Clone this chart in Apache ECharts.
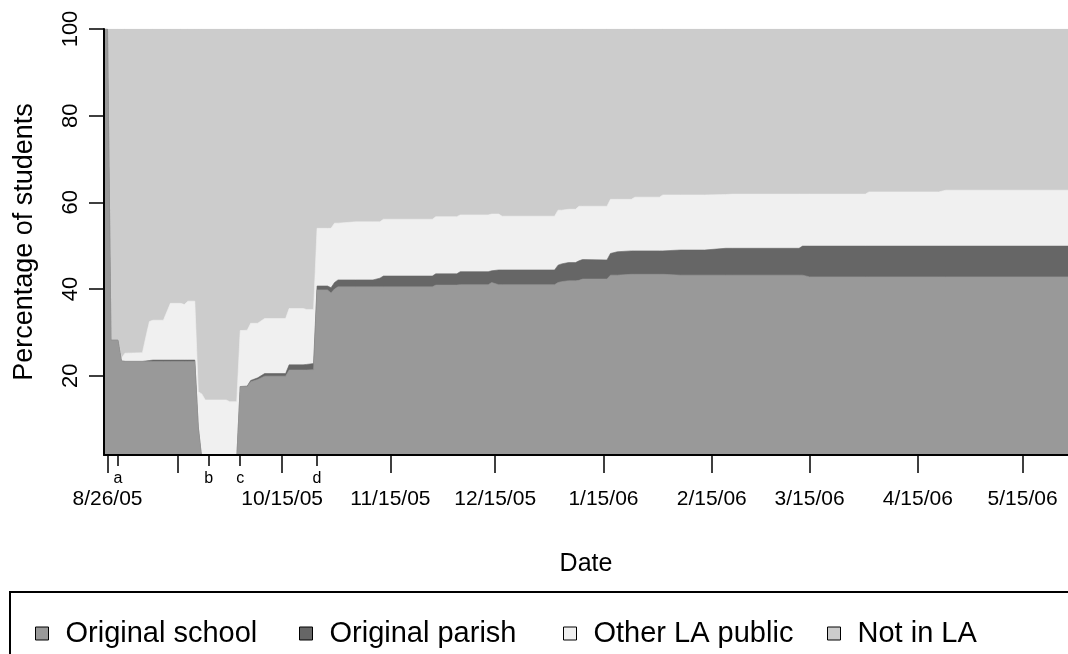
<!DOCTYPE html>
<html><head><meta charset="utf-8">
<script src="https://cdn.jsdelivr.net/npm/echarts@6/dist/echarts.min.js"></script>
<style>html,body{margin:0;padding:0;background:#fff}#c{width:1068px;height:654px}</style>
</head><body><div id="c"></div>
<script>
// ---- data ----
const dates = ['2005-08-25','2005-08-26','2005-08-27','2005-08-29','2005-08-30','2005-08-31','2005-09-05','2005-09-06','2005-09-07','2005-09-08',
 '2005-09-11','2005-09-13','2005-09-16','2005-09-17','2005-09-18','2005-09-20','2005-09-21','2005-09-22','2005-09-23','2005-09-29',
 '2005-09-30','2005-10-02','2005-10-03','2005-10-05','2005-10-06','2005-10-08','2005-10-10','2005-10-16','2005-10-17','2005-10-21',
 '2005-10-22','2005-10-24','2005-10-25','2005-10-28','2005-10-29','2005-10-30','2005-10-31','2005-11-05','2005-11-10','2005-11-12',
 '2005-11-13','2005-11-27','2005-11-28','2005-12-04','2005-12-05','2005-12-13','2005-12-14','2005-12-16','2005-12-17','2006-01-01',
 '2006-01-02','2006-01-03','2006-01-05','2006-01-07','2006-01-08','2006-01-09','2006-01-16','2006-01-17','2006-01-19','2006-01-23',
 '2006-01-24','2006-01-31','2006-02-01','2006-02-06','2006-02-13','2006-02-19','2006-02-21','2006-03-12','2006-03-13','2006-03-15',
 '2006-03-31','2006-04-01','2006-04-21','2006-04-23','2006-05-28'];
const originalSchool = [100,100,28.2,28.2,23.4,23.3,23.3,23.3,23.3,23.3,
 23.3,23.3,23.3,23.3,23.3,23.3,8.0,0.8,0.8,0.8,
 0.8,0.8,17.5,17.5,18.6,19.1,19.9,19.9,21.3,21.3,
 21.3,21.4,39.8,39.8,39.1,40.0,40.5,40.5,40.5,40.5,
 40.5,40.5,40.9,40.9,41.0,41.0,41.5,41.0,41.0,41.0,
 41.5,41.7,41.9,41.9,42.0,42.3,42.3,43.2,43.2,43.4,
 43.4,43.4,43.4,43.2,43.2,43.2,43.2,43.2,43.2,42.8,
 42.8,42.8,42.8,42.8,42.8];
const originalParish = [0,0,0,0,0,0,0,0.1,0.2,0.3,
 0.3,0.3,0.3,0.3,0.3,0.3,0.2,0,0,0,
 0,0,0,0.1,0.3,0.4,0.6,0.6,1.2,1.2,
 1.3,1.4,0.9,0.9,1.2,1.5,1.6,1.6,1.6,2.0,
 2.5,2.5,2.6,2.6,3.0,3.0,2.7,3.4,3.4,3.4,
 4.0,4.1,4.2,4.2,4.5,4.5,4.4,5.0,5.4,5.4,
 5.4,5.4,5.4,5.8,5.8,6.2,6.2,6.2,6.7,7.1,
 7.1,7.1,7.1,7.1,7.1];
const otherLAPublic = [0,0,0,0,0.6,1.9,2.0,5.6,9.0,9.2,
 9.2,13.1,13.1,12.8,13.6,13.6,8.1,15.0,13.6,13.6,
 13.2,13.2,12.9,12.9,13.2,12.6,12.7,12.7,13.0,13.0,
 12.7,12.5,13.3,13.3,13.7,13.7,13.1,13.4,13.4,13.0,
 13.1,13.1,13.2,13.2,13.1,13.1,13.1,12.9,12.4,12.4,
 12.7,12.4,12.3,12.3,12.6,12.3,12.4,12.5,12.1,11.9,
 12.4,12.4,12.9,12.7,12.7,12.4,12.5,12.5,12.0,12.0,
 12.0,12.5,12.5,12.9,12.9];
const notInLA = [0,0,71.8,71.8,76.0,74.8,74.7,71.0,67.5,67.2,
 67.2,63.3,63.3,63.6,62.8,62.8,83.7,84.2,85.6,85.6,
 86.0,86.0,69.6,69.5,67.9,67.9,66.8,66.8,64.5,64.5,
 64.7,64.7,46.0,46.0,46.0,44.8,44.8,44.5,44.5,44.5,
 43.9,43.9,43.3,43.3,42.9,42.9,42.7,42.7,43.2,43.2,
 41.8,41.8,41.6,41.6,40.9,40.9,40.9,39.3,39.3,39.3,
 38.8,38.8,38.3,38.3,38.3,38.2,38.1,38.1,38.1,38.1,
 38.1,37.6,37.6,37.2,37.2];
const seriesNames = ['Original school','Original parish','Other LA public','Not in LA'];
const seriesColors = ['#999999','#666666','#f0f0f0','#cccccc'];
const tickDates = ['2005-08-26','2005-09-15','2005-10-15','2005-11-15','2005-12-15','2006-01-15','2006-02-15','2006-03-15','2006-04-15','2006-05-15'];
const tickLabels = ['8/26/05','','10/15/05','11/15/05','12/15/05','1/15/06','2/15/06','3/15/06','4/15/06','5/15/06'];
const eventDates = ['2005-08-29','2005-09-24','2005-10-03','2005-10-25'];
const eventLabels = ['a','b','c','d'];
const yTicks = [20,40,60,80,100];
const xRange = ['2005-08-25','2006-05-28'];
const yRange = [1.7,100];

// ---- build ----
function toTs(s){const p=s.split('-').map(Number);return Date.UTC(p[0],p[1]-1,p[2]);}
const FONT = "'Liberation Sans', Arial, Helvetica, sans-serif";
const tickTs = tickDates.map(toTs);
const labelTs = tickTs.filter((t,i)=>tickLabels[i]!=='');
const eventTs = eventDates.map(toTs);
const xs = dates.map(toTs);
const layers = [originalSchool, originalParish, otherLAPublic, notInLA];
// cumulative tops of each stacked layer (stack order: school at bottom)
const tops = layers.map((arr,k)=>arr.map((v,i)=>{let s=0;for(let j=0;j<=k;j++)s+=layers[j][i];return Math.round(s*100)/100;}));
function nearestIdx(arr, v){let b=-1,bd=Infinity;arr.forEach((t,i)=>{const d=Math.abs(t-v);if(d<bd){bd=d;b=i;}});return bd<43200000?b:-1;}

// draw top layer first, each filled down to the axis bottom
const drawOrder = [3,2,1,0];
const series = drawOrder.map((k,n)=>({
  name:seriesNames[k],type:'line',xAxisIndex:0,yAxisIndex:0,
  symbol:'none',showSymbol:false,smooth:false,z:2+n,
  color:seriesColors[k],
  itemStyle:{color:seriesColors[k]},
  lineStyle:{width:0.6,color:seriesColors[k]},
  areaStyle:{color:seriesColors[k],opacity:1,origin:'start'},
  emphasis:{disabled:true},
  data: xs.map((x,i)=>[x, tops[k][i]])
}));

// one legend block per entry, evenly spaced like the original
const legendLeft = [30,294,558,822];
const legends = seriesNames.map((nm,i)=>({
  left:legendLeft[i],top:614,orient:'horizontal',icon:'rect',itemWidth:13,itemHeight:13,selectedMode:false,
  textStyle:{fontSize:29,color:'#000',fontFamily:FONT,padding:[0,0,0,12]},
  itemStyle:{borderColor:'#000',borderWidth:1},
  data:[nm]
}));

const chart = echarts.init(document.getElementById('c'), null, {renderer:'canvas'});
chart.setOption({
  animation:false,
  backgroundColor:'#ffffff',
  textStyle:{fontFamily:FONT},
  grid:[
    {left:104,right:0,top:29,bottom:199,containLabel:false,outerBoundsMode:'none'},
    {left:104,right:0,top:29,bottom:199,containLabel:false,outerBoundsMode:'none'}
  ],
  xAxis:[
    {type:'value',gridIndex:0,min:toTs(xRange[0]),max:toTs(xRange[1]),scale:true,z:20,
     axisLine:{show:true,onZero:false,lineStyle:{color:'#000',width:2}},
     axisTick:{show:true,customValues:tickTs,length:18,lineStyle:{color:'#000',width:1.5}},
     axisLabel:{show:true,customValues:labelTs,fontSize:21,color:'#000',margin:34,fontFamily:FONT,
       formatter:function(v){const i=nearestIdx(tickTs,v);return i>=0?tickLabels[i]:'';}},
     splitLine:{show:false},
     name:'Date',nameLocation:'middle',nameGap:97,nameTextStyle:{fontSize:25,color:'#000',fontFamily:FONT}
    },
    {type:'value',gridIndex:1,min:toTs(xRange[0]),max:toTs(xRange[1]),scale:true,
     axisLine:{show:false,onZero:false},
     axisTick:{show:true,customValues:eventTs,length:11,lineStyle:{color:'#000',width:1.5}},
     axisLabel:{show:true,customValues:eventTs,fontSize:16,color:'#000',margin:16,fontFamily:FONT,
       formatter:function(v){const i=nearestIdx(eventTs,v);return i>=0?eventLabels[i]:'';}},
     splitLine:{show:false}
    }
  ],
  yAxis:[
    {type:'value',gridIndex:0,min:yRange[0],max:yRange[1],z:20,
     axisLine:{show:true,onZero:false,lineStyle:{color:'#000',width:2}},
     axisTick:{show:true,customValues:yTicks,length:15,lineStyle:{color:'#000',width:1.5}},
     axisLabel:{show:true,customValues:yTicks,rotate:90,fontSize:22,color:'#000',margin:22,fontFamily:FONT},
     splitLine:{show:false},
     name:'Percentage of students',nameLocation:'middle',nameGap:66,nameTextStyle:{fontSize:27,color:'#000',fontFamily:FONT}
    },
    {type:'value',gridIndex:1,min:0,max:1,show:false}
  ],
  legend:legends,
  graphic:[{type:'rect',silent:true,shape:{x:10,y:592,width:1200,height:200},style:{fill:'none',stroke:'#000',lineWidth:2}}],
  series: series
});
</script></body></html>
